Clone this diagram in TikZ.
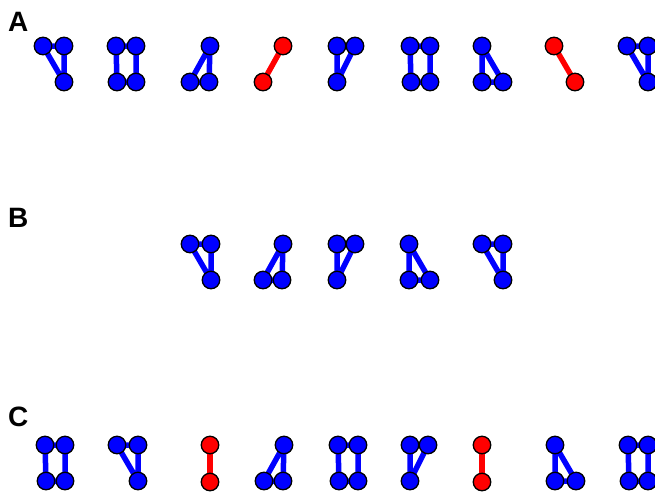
\documentclass[tikz,border=0pt]{standalone}
\usepackage{fontspec}
\usepackage{xcolor}
\usepackage{tikz}
\usetikzlibrary{backgrounds}
\newfontfamily\panelfont{Liberation Sans}
\definecolor{motifblue}{RGB}{0, 0, 255}
\definecolor{motifred}{RGB}{255, 0, 0}

\begin{document}
\begin{tikzpicture}[
    x=1pt, y=-1pt,
    vtx/.style={circle, draw=black, line width=1.3pt, fill=motifblue,
                inner sep=0pt, minimum size=17.5pt},
    rvtx/.style={vtx, fill=motifred},
    bond/.style={line width=5.5pt, draw=motifblue, line join=round},
    rbond/.style={bond, draw=motifred},
    panel/.style={anchor=base west, inner sep=0pt,
                  font=\panelfont\fontsize{28}{28}\selectfont\bfseries},
    % triangle, two on top, one below right
    ttri/.pic={
        \node[vtx] (-a) at (0,0) {};
        \node[vtx] (-b) at (21,0) {};
        \node[vtx] (-c) at (21,36) {};
        \begin{scope}[on background layer]
            \draw[bond] (-a.center) -- (-b.center) -- (-c.center) -- cycle;
        \end{scope}
    },
    % triangle, two on top, one below left
    ptri/.pic={
        \node[vtx] (-a) at (0,0) {};
        \node[vtx] (-b) at (18,0) {};
        \node[vtx] (-c) at (0,36) {};
        \begin{scope}[on background layer]
            \draw[bond] (-a.center) -- (-b.center) -- (-c.center) -- cycle;
        \end{scope}
    },
    % triangle, one on top right, two below
    ltri/.pic={
        \node[vtx] (-a) at (20,0) {};
        \node[vtx] (-b) at (0,36) {};
        \node[vtx] (-c) at (19,36) {};
        \begin{scope}[on background layer]
            \draw[bond] (-a.center) -- (-b.center) -- (-c.center) -- cycle;
        \end{scope}
    },
    % triangle, one on top left, two below
    rtri/.pic={
        \node[vtx] (-a) at (0,0) {};
        \node[vtx] (-b) at (0,36) {};
        \node[vtx] (-c) at (21,36) {};
        \begin{scope}[on background layer]
            \draw[bond] (-a.center) -- (-b.center) -- (-c.center) -- cycle;
        \end{scope}
    },
    % square
    quad/.pic={
        \node[vtx] (-a) at (0,0) {};
        \node[vtx] (-b) at (20,0) {};
        \node[vtx] (-c) at (20,36) {};
        \node[vtx] (-d) at (1,36) {};
        \begin{scope}[on background layer]
            \draw[bond] (-a.center) -- (-b.center) -- (-c.center)
                -- (-d.center) -- cycle;
        \end{scope}
    },
    % red pairs
    rslash/.pic={
        \node[rvtx] (-a) at (20,0) {};
        \node[rvtx] (-b) at (0,36) {};
        \begin{scope}[on background layer]
            \draw[rbond] (-a.center) -- (-b.center);
        \end{scope}
    },
    rback/.pic={
        \node[rvtx] (-a) at (0,0) {};
        \node[rvtx] (-b) at (21,36) {};
        \begin{scope}[on background layer]
            \draw[rbond] (-a.center) -- (-b.center);
        \end{scope}
    },
    rbar/.pic={
        \node[rvtx] (-a) at (0,0) {};
        \node[rvtx] (-b) at (0,37) {};
        \begin{scope}[on background layer]
            \draw[rbond] (-a.center) -- (-b.center);
        \end{scope}
    },
]
\useasboundingbox (0,0) rectangle (655,493);

% Panel labels
\node[panel] (labA) at (8,31) {A};
\node[panel] (labB) at (8,227) {B};
\node[panel] (labC) at (8,426) {C};

% Row A
\pic (a1) at (43,46) {ttri};
\pic (a2) at (116,46) {quad};
\pic (a3) at (190,46) {ltri};
\pic (a4) at (263,46) {rslash};
\pic (a5) at (337,46) {ptri};
\pic (a6) at (410,46) {quad};
\pic (a7) at (482,46) {rtri};
\pic (a8) at (554,46) {rback};
\pic (a9) at (627,46) {ttri};

% Row B
\pic (b1) at (190,244) {ttri};
\pic (b2) at (263,244) {ltri};
\pic (b3) at (337,244) {ptri};
\pic (b4) at (409,244) {rtri};
\pic (b5) at (482,244) {ttri};

% Row C
\pic (c1) at (45,445) {quad};
\pic (c2) at (117,445) {ttri};
\pic (c3) at (210,445) {rbar};
\pic (c4) at (264,445) {ltri};
\pic (c5) at (338,445) {quad};
\pic (c6) at (410,445) {ptri};
\pic (c7) at (482,445) {rbar};
\pic (c8) at (555,445) {rtri};
\pic (c9) at (628,445) {quad};

\end{tikzpicture}
\end{document}
